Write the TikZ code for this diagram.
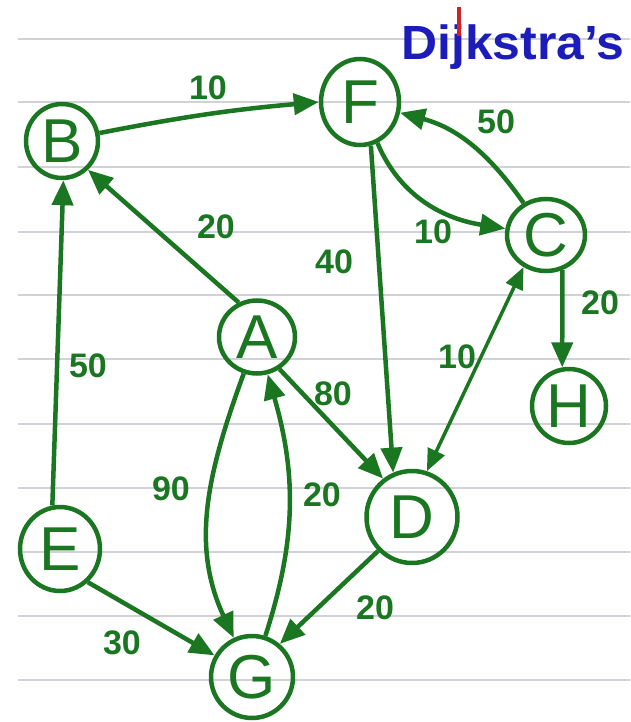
\documentclass[tikz,border=0pt]{standalone}
\usepackage{fontspec}
\setmainfont{Liberation Sans}
\usetikzlibrary{arrows.meta,shapes.geometric}
\definecolor{pen}{RGB}{26,118,32}
\definecolor{ink}{RGB}{28,28,185}
\definecolor{redpen}{RGB}{205,35,35}
\definecolor{rulecol}{RGB}{208,210,215}
\begin{document}
\begin{tikzpicture}[x=1pt,y=-1pt,
  vert/.style={draw=pen, line width=4.5pt, ellipse, inner sep=0pt, text=pen,
               font=\fontsize{62}{62}\selectfont},
  edge/.style={draw=pen, line width=4.5pt, -{Triangle[length=25pt,width=21pt]}},
  wlabel/.style={text=pen, font=\fontsize{34}{34}\selectfont\bfseries, inner sep=0pt},
  ruling/.style={draw=rulecol, line width=2.5pt}]
\useasboundingbox (0,0) rectangle (630,722);
\fill[white] (0,0) rectangle (630,722);
\foreach \yy in {39,102,167,232,295,359,424,488,552,616,680}
  \draw[ruling] (18,\yy) -- (630,\yy);

% title
\node[text=ink, font=\fontsize{48}{48}\selectfont\bfseries, anchor=base west, inner sep=0pt]
  (title) at (401,60) {\scalebox{1.04}[1]{Dijkstra's}};
\draw[redpen, line width=4pt] (459,7) -- (459,36);

% vertices
\node[vert, minimum width=72pt, minimum height=74pt] (B) at (62,141) {B};
\node[vert, minimum width=78pt, minimum height=86pt] (F) at (360,102) {F};
\node[vert, minimum width=78pt, minimum height=72pt] (C) at (546,235) {C};
\node[vert, minimum width=76pt, minimum height=73pt] (A) at (257,337) {A};
\node[vert, minimum width=74pt, minimum height=74pt] (H) at (569,406) {H};
\node[vert, minimum width=91pt, minimum height=92pt] (D) at (412,517) {D};
\node[vert, minimum width=80pt, minimum height=84pt] (E) at (60,549) {E};
\node[vert, minimum width=82pt, minimum height=82pt] (G) at (252,677) {G};

% edges
\draw[edge] (B.12) to[bend left=3] (F.180);
\draw[edge] (A.118) -- (B.-48);
\draw[edge] (E.100) -- (B.-88);
\draw[edge] (F.-76) -- (D.113);
\draw[edge] (F) to[out=-67,in=171] (C);
\draw[edge] (C) to[out=125,in=-15] (F);
\draw[edge] (C.-65) -- (H.100);
\draw[draw=pen, line width=3.5pt, {Triangle[length=22pt,width=18pt]}-{Triangle[length=22pt,width=18pt]}] (D.72) -- (C.-125);
\draw[edge] (A.-55) -- (D.127);
\draw[edge] (A) to[out=-110,in=115] (G);
\draw[edge] (G) to[out=72,in=-74] (A);
\draw[edge] (E.-50) -- (G.150);
\draw[edge] (D.-135) -- (G.50);

% weights
\node[wlabel] (wBF) at (208,88) {10};
\node[wlabel] (wAB) at (216,227) {20};
\node[wlabel] (wEB) at (88,366) {50};
\node[wlabel] (wFD) at (334,262) {40};
\node[wlabel] (wFC) at (433,232) {10};
\node[wlabel] (wCF) at (496,122) {50};
\node[wlabel] (wCH) at (600,303) {20};
\node[wlabel] (wCD) at (457,357) {10};
\node[wlabel] (wAD) at (333,394) {80};
\node[wlabel] (wAG) at (171,489) {90};
\node[wlabel] (wGA) at (322,495) {20};
\node[wlabel] (wEG) at (122,643) {30};
\node[wlabel] (wDG) at (375,608) {20};
\end{tikzpicture}
\end{document}
